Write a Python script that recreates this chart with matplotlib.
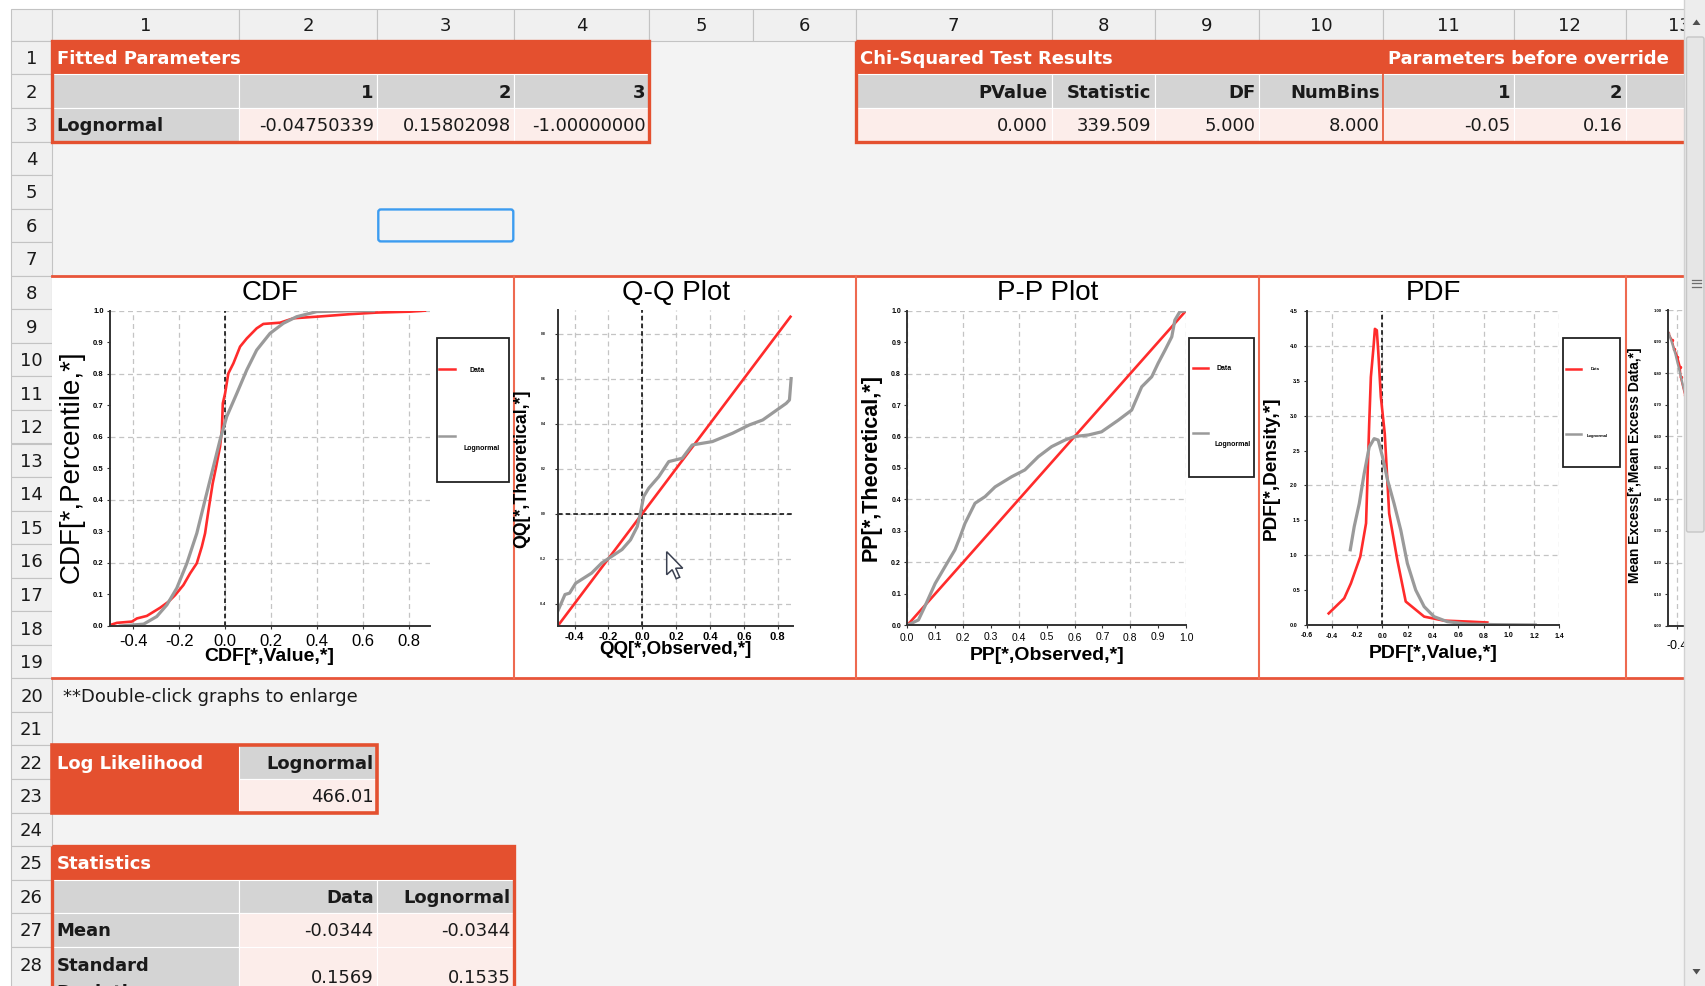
import matplotlib
matplotlib.use('Agg')
import matplotlib.pyplot as plt
from matplotlib.patches import Rectangle, Polygon, FancyBboxPatch
from matplotlib.ticker import FixedLocator, FormatStrFormatter

plt.rcParams['axes.unicode_minus'] = False

# ---- table values ----
fit_param_cols = ['1', '2', '3']
fit_param_vals = ['-0.04750339', '0.15802098', '-1.00000000']
chi_cols = ['PValue', 'Statistic', 'DF', 'NumBins']
chi_vals = ['0.000', '339.509', '5.000', '8.000']
override_cols = ['1', '2', '']
override_vals = ['-0.05', '0.16', '-']
loglik_name = 'Lognormal'
loglik_val = '466.01'
stat_cols = ['Data', 'Lognormal']
stat_mean = ['-0.0344', '-0.0344']
stat_sd = ['0.1569', '0.1535']

# ---- chart series ----
cdf_data_x = [-0.5, -0.47, -0.405, -0.383, -0.34, -0.311, -0.282, -0.246, -0.217, -0.181, -0.152,
              -0.123, -0.101, -0.087, -0.072, -0.054, -0.039, -0.022, -0.014, -0.01, 0.0, 0.014,
              0.036, 0.065, 0.094, 0.137, 0.166, 0.239, 0.297, 0.398, 0.543, 0.658, 0.803, 0.868]
cdf_data_y = [0.003, 0.01, 0.014, 0.024, 0.032, 0.045, 0.058, 0.077, 0.098, 0.13, 0.167,
              0.199, 0.252, 0.294, 0.368, 0.452, 0.505, 0.569, 0.622, 0.706, 0.738, 0.801,
              0.833, 0.886, 0.912, 0.944, 0.958, 0.962, 0.976, 0.981, 0.989, 0.994, 0.997, 1.0]
cdf_fit_x = [-0.456, -0.354, -0.297, -0.253, -0.21, -0.166, -0.123, -0.087, -0.051, -0.022,
             0.007, 0.051, 0.094, 0.137, 0.195, 0.253, 0.311, 0.398, 0.543, 0.644]
cdf_fit_y = [0.0, 0.006, 0.03, 0.067, 0.12, 0.199, 0.294, 0.40, 0.505, 0.59,
             0.664, 0.738, 0.812, 0.875, 0.928, 0.96, 0.981, 0.997, 1.0, 1.0]

qq_data_x = [-0.5, 0.875]
qq_data_y = [-0.5, 0.875]
qq_fit_x = [-0.50, -0.457, -0.43, -0.394, -0.30, -0.24, -0.18, -0.12, -0.07, -0.03, -0.012, 0.008,
            0.038, 0.097, 0.156, 0.236, 0.295, 0.414, 0.533, 0.632, 0.711, 0.85, 0.869, 0.879]
qq_fit_y = [-0.435, -0.36, -0.354, -0.31, -0.265, -0.22, -0.19, -0.16, -0.117, -0.058, 0.0, 0.076,
            0.113, 0.164, 0.231, 0.246, 0.305, 0.32, 0.357, 0.394, 0.416, 0.49, 0.505, 0.60]

pp_data_x = [0.0, 1.0]
pp_data_y = [0.0, 1.0]
pp_fit_x = [0, 0.04, 0.063, 0.10, 0.135, 0.171, 0.189, 0.207, 0.243, 0.279, 0.315, 0.374, 0.422, 0.47,
            0.518, 0.566, 0.60, 0.65, 0.697, 0.757, 0.805, 0.841, 0.877, 0.90, 0.925, 0.949, 0.96, 0.978, 1.0]
pp_fit_y = [0, 0.017, 0.06, 0.133, 0.186, 0.24, 0.28, 0.324, 0.388, 0.409, 0.44, 0.472, 0.494, 0.536,
            0.568, 0.589, 0.60, 0.605, 0.615, 0.652, 0.684, 0.758, 0.79, 0.833, 0.875, 0.917, 0.97, 0.997, 1.0]

pdf_data_x = [-0.426, -0.303, -0.25, -0.176, -0.13, -0.105, -0.092, -0.071, -0.06, -0.045, -0.034,
              -0.013, 0.018, 0.053, 0.118, 0.184, 0.33, 0.487, 0.697, 0.83]
pdf_data_y = [0.17, 0.386, 0.6, 0.98, 1.46, 2.89, 3.55, 3.98, 4.24, 4.22, 3.93,
              3.27, 2.74, 1.6, 0.93, 0.34, 0.124, 0.067, 0.052, 0.04]
pdf_fit_x = [-0.255, -0.224, -0.184, -0.145, -0.105, -0.066, -0.034, 0.0, 0.04, 0.092, 0.145,
             0.197, 0.263, 0.33, 0.408, 0.513, 0.67, 0.88, 1.21]
pdf_fit_y = [1.08, 1.41, 1.74, 2.17, 2.55, 2.67, 2.65, 2.41, 2.08, 1.74, 1.36,
             0.886, 0.505, 0.267, 0.124, 0.052, 0.019, 0.01, 0.005]

me_data_x = [-0.447, -0.429, -0.417, -0.40, -0.386, -0.383, -0.36, -0.33]
me_data_y = [0.928, 0.905, 0.878, 0.852, 0.820, 0.788, 0.73, 0.66]
me_fit_x = [-0.447, -0.43, -0.41, -0.39, -0.37, -0.33]
me_fit_y = [0.93, 0.90, 0.86, 0.81, 0.76, 0.67]

# ---- page geometry (pixels) ----
W, H = 1705, 986
COL_X = [52.2, 239.2, 377.3, 514.3, 649.2, 752.5, 855.8, 1051.5, 1154.8, 1259.2, 1383.2, 1513.7, 1625.7, 1734]
ROW0, RH = 40.9, 33.55
RED = '#E4502F'
GRAY = '#D4D4D4'
PINK = '#FCEDEA'
SHEET = '#F3F3F3'
HDR = '#F0F0F0'
HDR_EDGE = '#C3C3C3'
C_DATA = '#FF2B2B'
C_FIT = '#9A9A9A'


def rtop(k):
    return ROW0 + (k - 1) * RH


def rc(k):
    return rtop(k) + RH / 2


fig = plt.figure(figsize=(W / 100, H / 100), dpi=100)
fig.patch.set_facecolor('white')
bg = fig.add_axes([0, 0, 1, 1])
bg.set_xlim(0, W)
bg.set_ylim(H, 0)
bg.axis('off')


def rect(x0, y0, x1, y1, fc='none', ec='none', lw=0, z=1, ax=None):
    (ax or bg).add_patch(Rectangle((x0, y0), x1 - x0, y1 - y0, facecolor=fc,
                                   edgecolor=ec, linewidth=lw, zorder=z))


def txt(x, y, s, ha='left', bold=False, color='#1a1a1a', size=13):
    # small downward nudge so the glyphs sit like the spreadsheet's
    bg.text(x, y + 1.5, s, ha=ha, va='center', fontsize=size, color=color,
            fontweight='bold' if bold else 'normal', family='DejaVu Sans', zorder=6)


def cells(cols, k, fc, k2=None):
    y1 = rtop(k + 1) if k2 is None else k2
    for c in cols:
        rect(COL_X[c - 1], rtop(k), COL_X[c], y1, fc, 'white', 0.8, z=2)


# sheet background and headers
rect(10.9, 8.7, W, H, SHEET)
rect(10.9, 8.7, 52.2, 40.9, HDR, HDR_EDGE, 0.8)
for i in range(13):
    rect(COL_X[i], 8.7, COL_X[i + 1], 40.9, HDR, HDR_EDGE, 0.8)
    txt((COL_X[i] + COL_X[i + 1]) / 2, 24.8, str(i + 1), ha='center')
for k in range(1, 29):
    y1 = rtop(k) + (2 * RH if k == 28 else RH)
    rect(10.9, rtop(k), 52.2, y1, HDR, HDR_EDGE, 0.8)
    txt(31.5, 964.5 if k == 28 else rc(k), str(k), ha='center')

# Fitted Parameters
rect(COL_X[0], rtop(1), COL_X[4], rtop(2), RED, z=2)
cells([1, 2, 3, 4], 2, GRAY)
cells([1], 3, GRAY)
cells([2, 3, 4], 3, PINK)
rect(COL_X[0], rtop(1), COL_X[4], rtop(4), ec=RED, lw=2.4, z=3)
txt(COL_X[0] + 4.5, rc(1), 'Fitted Parameters', bold=True, color='white')
for i, s in enumerate(fit_param_cols):
    txt(COL_X[i + 2] - 3.5, rc(2), s, ha='right', bold=True)
txt(COL_X[0] + 4.5, rc(3), 'Lognormal', bold=True)
for i, s in enumerate(fit_param_vals):
    txt(COL_X[i + 2] - 3.5, rc(3), s, ha='right')

# Chi-squared + parameters before override
rect(COL_X[6], rtop(1), COL_X[13], rtop(2), RED, z=2)
cells(range(7, 14), 2, GRAY)
cells(range(7, 14), 3, PINK)
rect(COL_X[6], rtop(1), COL_X[13], rtop(4), ec=RED, lw=2.4, z=3)
bg.plot([COL_X[10], COL_X[10]], [rtop(2), rtop(4)], color=RED, lw=1.2, zorder=4)
txt(COL_X[6] + 4.5, rc(1), 'Chi-Squared Test Results', bold=True, color='white')
txt(COL_X[10] + 4.5, rc(1), 'Parameters before override', bold=True, color='white')
for i, s in enumerate(chi_cols):
    txt(COL_X[i + 7] - 3.5, rc(2), s, ha='right', bold=True)
    txt(COL_X[i + 7] - 3.5, rc(3), chi_vals[i], ha='right')
for i, s in enumerate(override_cols):
    txt(COL_X[i + 11] - 3.5, rc(2), s, ha='right', bold=True)
    txt(COL_X[i + 11] - 3.5, rc(3), override_vals[i], ha='right')

# selected cell
bg.add_patch(FancyBboxPatch((COL_X[2] + 1, rtop(6) + 0.8), COL_X[3] - COL_X[2] - 2, RH - 1.6,
                            boxstyle='round,pad=0,rounding_size=2.5', fc='none',
                            ec='#3C9CF0', lw=1.7, zorder=4))

# chart panel
rect(COL_X[0], rtop(8), COL_X[13], rtop(20), 'white', z=1)
for yy in (rtop(8), rtop(20)):
    bg.plot([COL_X[0], COL_X[13]], [yy, yy], color='#E8553A', lw=2.0, zorder=3)
for c in (3, 6, 9, 12):
    bg.plot([COL_X[c], COL_X[c]], [rtop(8), rtop(20)], color='#EE6A50', lw=1.5, zorder=3)

txt(63, rc(20), '**Double-click graphs to enlarge')

# Log Likelihood
rect(COL_X[0], rtop(22), COL_X[1], rtop(24), RED, z=2)
cells([2], 22, GRAY)
cells([2], 23, PINK)
rect(COL_X[0], rtop(22), COL_X[2], rtop(24), ec=RED, lw=2.6, z=3)
txt(COL_X[0] + 4.5, rc(22), 'Log Likelihood', bold=True, color='white')
txt(COL_X[2] - 3.5, rc(22), loglik_name, ha='right', bold=True)
txt(COL_X[2] - 3.5, rc(23), loglik_val, ha='right')

# Statistics
rect(COL_X[0], rtop(25), COL_X[3], rtop(26), RED, z=2)
cells([1, 2, 3], 26, GRAY)
cells([1], 27, GRAY)
cells([2, 3], 27, PINK)
cells([1], 28, GRAY, rtop(28) + 2 * RH)
cells([2, 3], 28, PINK, rtop(28) + 2 * RH)
rect(COL_X[0], rtop(25), COL_X[3], rtop(28) + 2 * RH, ec=RED, lw=2.4, z=3)
txt(COL_X[0] + 4.5, rc(25), 'Statistics', bold=True, color='white')
for i, s in enumerate(stat_cols):
    txt(COL_X[i + 2] - 3.5, rc(26), s, ha='right', bold=True)
    txt(COL_X[i + 2] - 3.5, rc(27), stat_mean[i], ha='right')
    txt(COL_X[i + 2] - 3.5, 976.5, stat_sd[i], ha='right')
txt(COL_X[0] + 4.5, rc(27), 'Mean', bold=True)
txt(COL_X[0] + 4.5, 964.5, 'Standard', bold=True)
txt(COL_X[0] + 4.5, 991, 'Deviation', bold=True)


# ---- charts ----
def px_axes(x0, y0, x1, y1):
    ax = fig.add_axes([x0 / W, 1 - y1 / H, (x1 - x0) / W, (y1 - y0) / H])
    ax.patch.set_visible(False)
    for s in ('top', 'right'):
        ax.spines[s].set_visible(False)
    for s in ('left', 'bottom'):
        ax.spines[s].set_color('#333333')
        ax.spines[s].set_linewidth(1.4)
    ax.tick_params(which='both', length=2.5, width=0.8, color='#333333', pad=2)
    ax.grid(True, which='major', color='#c4c4c4', ls=(0, (4, 3)), lw=0.9)
    ax.set_axisbelow(True)
    return ax


def set_ticks(axis, major, minor, size, bold=False, fmt='%.1f'):
    axis.set_major_locator(FixedLocator(major))
    axis.set_minor_locator(FixedLocator(minor))
    axis.set_major_formatter(FormatStrFormatter(fmt))
    axis.set_minor_formatter(FormatStrFormatter(fmt))
    for lab in axis.get_ticklabels(which='both'):
        lab.set_fontsize(size)
        lab.set_fontweight('bold' if bold else 'normal')
        lab.set_family('Liberation Sans')


def chart_text(x, y, s, size, bold=False, rot=0):
    bg.text(x, y, s, ha='center', va='center', fontsize=size, rotation=rot,
            fontweight='bold' if bold else 'normal', family='Liberation Sans', zorder=6)


def legend(x0, y0, x1, y1, lx0, lx1, ry, gy, dpos, lpos, size):
    rect(x0, y0, x1, y1, 'white', '#222222', 1.3, z=4)
    bg.plot([lx0, lx1], [ry, ry], color=C_DATA, lw=1.8, zorder=5)
    bg.plot([lx0, lx1], [gy, gy], color=C_FIT, lw=1.8, zorder=5)
    bg.text(dpos[0], dpos[1], 'Data', ha='center', va='center', fontsize=size,
            fontweight='bold', family='Liberation Sans', zorder=6)
    bg.text(lpos[0], lpos[1], 'Lognormal', ha='center', va='center', fontsize=size,
            fontweight='bold', family='Liberation Sans', zorder=6)


zero_style = dict(color='black', ls=(0, (3, 2)), lw=1.1, zorder=1.5)
tenths = [0.1, 0.3, 0.5, 0.7, 0.9]
fifths = [0.0, 0.2, 0.4, 0.6, 0.8, 1.0]

# CDF
ax = px_axes(110, 310.7, 430, 626)
ax.plot(cdf_data_x, cdf_data_y, color=C_DATA, lw=1.9)
ax.plot(cdf_fit_x, cdf_fit_y, color=C_FIT, lw=2.3)
ax.axvline(0, **zero_style)
ax.set_xlim(-0.5, 0.89)
ax.set_ylim(0, 1)
set_ticks(ax.xaxis, [-0.4, -0.2, 0.0, 0.2, 0.4, 0.6, 0.8], [], 12)
set_ticks(ax.yaxis, fifths, tenths, 5.5, bold=True)
ax.tick_params(axis='x', pad=3.5)
chart_text(270, 293, 'CDF', 20)
chart_text(71.7, 467, 'CDF[*,Percentile,*]', 20, rot=90)
chart_text(269.5, 656.7, 'CDF[*,Value,*]', 14, bold=True)
legend(436.7, 337.7, 508.5, 482, 439, 455, 369, 436, (477, 370), (482, 449), 5)

# Q-Q
ax = px_axes(557.7, 310, 793, 626)
ax.plot(qq_data_x, qq_data_y, color=C_DATA, lw=1.9)
ax.plot(qq_fit_x, qq_fit_y, color=C_FIT, lw=2.3)
ax.axvline(0, **zero_style)
ax.axhline(0, **zero_style)
ax.set_xlim(-0.5, 0.89)
ax.set_ylim(-0.5, 0.905)
set_ticks(ax.xaxis, [-0.4, -0.2, 0.0, 0.2, 0.4, 0.6, 0.8], [], 8, bold=True)
set_ticks(ax.yaxis, [-0.4, -0.2, 0.0, 0.2, 0.4, 0.6, 0.8], [], 2.5, bold=True)
ax.tick_params(axis='y', pad=6)
chart_text(675.7, 293, 'Q-Q Plot', 20)
chart_text(521.7, 469, 'QQ[*,Theoretical,*]', 12.8, bold=True, rot=90)
chart_text(675.7, 650, 'QQ[*,Observed,*]', 13.5, bold=True)

# P-P
ax = px_axes(907.3, 310.7, 1186, 625.3)
ax.plot(pp_data_x, pp_data_y, color=C_DATA, lw=1.9)
ax.plot(pp_fit_x, pp_fit_y, color=C_FIT, lw=2.3)
ax.set_xlim(0, 1)
ax.set_ylim(0, 1)
set_ticks(ax.xaxis, fifths, tenths, 7.5)
set_ticks(ax.yaxis, fifths, tenths, 5, bold=True)
ax.tick_params(axis='x', pad=3)
chart_text(1047.7, 293, 'P-P Plot', 20)
chart_text(871, 467.5, 'PP[*,Theoretical,*]', 15.5, bold=True, rot=90)
chart_text(1046.7, 655, 'PP[*,Observed,*]', 14, bold=True)
legend(1189, 337.7, 1254, 477.3, 1192.7, 1207.7, 367.7, 432.7, (1224, 369), (1232.7, 445), 5)

# PDF
ax = px_axes(1306.7, 310.7, 1559.3, 625.3)
ax.plot(pdf_data_x, pdf_data_y, color=C_DATA, lw=1.9)
ax.plot(pdf_fit_x, pdf_fit_y, color=C_FIT, lw=2.3)
ax.axvline(0, **zero_style)
ax.set_xlim(-0.6, 1.4)
ax.set_ylim(0, 4.5)
set_ticks(ax.xaxis, [-0.4, 0.0, 0.4, 0.8, 1.2, 1.4], [-0.6, -0.2, 0.2, 0.6, 1.0], 5, bold=True)
set_ticks(ax.yaxis, [0, 1, 2, 3, 4, 4.5], [0.5, 1.5, 2.5, 3.5], 4, bold=True)
ax.tick_params(axis='y', pad=4)
ax.tick_params(axis='x', pad=3)
chart_text(1433, 293, 'PDF', 20)
chart_text(1271.7, 467.7, 'PDF[*,Density,*]', 13.7, bold=True, rot=90)
chart_text(1432.7, 653.3, 'PDF[*,Value,*]', 14, bold=True)
legend(1562.7, 337.7, 1620, 467.3, 1566, 1580.7, 369, 434.3, (1595, 369), (1597, 435.7), 3)

# Mean excess (mostly cut off by the window edge)
ax = px_axes(1667.7, 310, 1927.7, 625.7)
ax.plot(me_data_x, me_data_y, color=C_DATA, lw=1.4, marker='.', ms=3)
ax.plot(me_fit_x, me_fit_y, color=C_FIT, lw=1.6)
ax.set_xlim(-0.45, 0.9)
ax.set_ylim(0, 1)
set_ticks(ax.xaxis, [-0.4, 0.0, 0.4, 0.8], [], 9)
set_ticks(ax.yaxis, fifths, tenths, 3, bold=True, fmt='%.2f')
ax.tick_params(axis='x', pad=8)
chart_text(1635, 465, 'Mean Excess[*,Mean Excess Data,*]', 10, bold=True, rot=90)

# ---- overlay: scrollbar and mouse pointer ----
ov = fig.add_axes([0, 0, 1, 1])
ov.set_xlim(0, W)
ov.set_ylim(H, 0)
ov.axis('off')
ov.patch.set_visible(False)
rect(1684, 0, W, H, '#EDEDED', z=1, ax=ov)
ov.plot([1684, 1684], [0, H], color='#D2D2D2', lw=1)
ov.add_patch(FancyBboxPatch((1686.5, 37), 17.5, 495, boxstyle='round,pad=0,rounding_size=2',
                            fc='#E6E6E6', ec='#C6C6C6', lw=1, zorder=2))
for gy in (279.5, 283, 286.5):
    ov.plot([1692, 1701], [gy, gy], color='#6E6E6E', lw=0.9, zorder=3)
ov.add_patch(Polygon([(1692.5, 25), (1700.5, 25), (1696.5, 19.5)], closed=True, fc='#505050', zorder=3))
ov.add_patch(Polygon([(1692.5, 969), (1700.5, 969), (1696.5, 974.5)], closed=True, fc='#505050', zorder=3))

tip_x, tip_y = 666.7, 551.7
pointer = [(0, 0), (0, 23), (5.5, 18), (9.5, 27), (13, 25.5), (9, 16.5), (16, 16.5)]
ov.add_patch(Polygon([(tip_x + px, tip_y + py) for px, py in pointer], closed=True,
                     fc='white', ec='#3A4050', lw=1.1, zorder=4))

fig.savefig('out.png', dpi=100)
